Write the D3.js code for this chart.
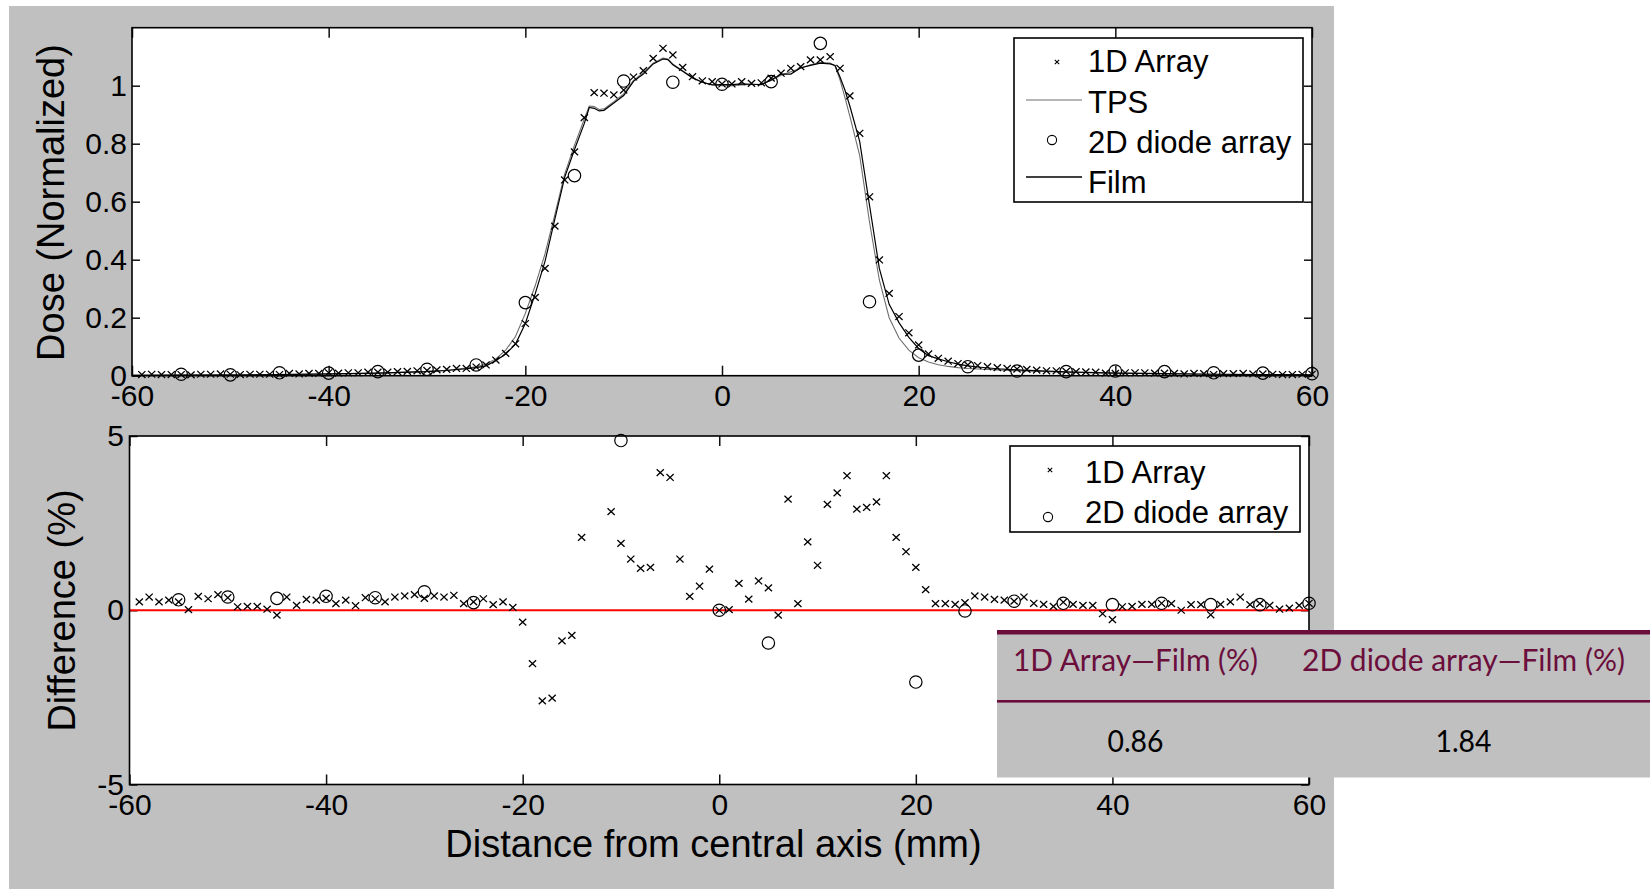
<!DOCTYPE html>
<html>
<head>
<meta charset="utf-8">
<script src="https://cdn.jsdelivr.net/npm/d3@7"></script>
<style>
  body { margin: 0; background: #fff; }
  svg { display: block; }
</style>
</head>
<body>
<svg id="chart"></svg>
<script>
// positions (mm) of the 1D array detectors
var POS_1D = [-59,-58,-57,-56,-55,-54,-53,-52,-51,-50,-49,-48,-47,-46,-45,-44,-43,-42,-41,-40,
  -39,-38,-37,-36,-35,-34,-33,-32,-31,-30,-29,-28,-27,-26,-25,-24,-23,-22,-21,-20,
  -19,-18,-17,-16,-15,-14,-13,-12,-11,-10,-9,-8,-7,-6,-5,-4,-3,-2,-1,0,
  1,2,3,4,5,6,7,8,9,10,11,12,13,14,15,16,17,18,19,20,
  21,22,23,24,25,26,27,28,29,30,31,32,33,34,35,36,37,38,39,40,
  41,42,43,44,45,46,47,48,49,50,51,52,53,54,55,56,57,58,59,60];

var DOSE_1D = [0.004,0.005,0.004,0.004,0.004,0.003,0.005,0.005,0.006,0.005,0.004,0.005,0.005,0.005,0.004,0.008,0.006,0.008,0.008,0.010,
  0.009,0.010,0.010,0.012,0.012,0.012,0.014,0.015,0.017,0.018,0.020,0.022,0.025,0.025,0.030,0.037,0.054,0.077,0.110,0.180,
  0.270,0.370,0.516,0.675,0.772,0.890,0.976,0.974,0.968,0.985,1.030,1.052,1.094,1.129,1.106,1.063,1.031,1.017,1.014,1.006,
  1.006,1.014,1.008,1.010,1.026,1.043,1.060,1.066,1.089,1.089,1.100,1.060,0.965,0.836,0.617,0.399,0.284,0.204,0.148,0.106,
  0.075,0.060,0.050,0.042,0.037,0.035,0.031,0.028,0.025,0.023,0.022,0.019,0.017,0.017,0.015,0.014,0.013,0.012,0.009,0.008,
  0.010,0.010,0.010,0.009,0.009,0.008,0.006,0.008,0.007,0.004,0.007,0.007,0.008,0.006,0.006,0.005,0.004,0.004,0.005,0.005];

// 1D array - film (%), null = off the plotted range
var DIFF_1D = [0.24,0.38,0.24,0.29,0.24,0.02,0.40,0.33,0.45,0.36,0.10,0.11,0.11,0.03,-0.14,0.38,0.14,0.31,0.29,0.35,
  0.19,0.29,0.13,0.36,0.33,0.24,0.38,0.41,0.45,0.34,0.41,0.38,0.43,0.19,0.24,0.33,0.16,0.24,0.08,-0.34,
  -1.53,-2.60,-2.52,-0.88,-0.72,2.09,null,null,2.83,1.92,1.47,1.20,1.23,3.95,3.81,1.47,0.40,0.69,1.18,0.00,
  0.02,0.77,0.32,0.84,0.64,-0.14,3.19,0.19,1.96,1.29,3.04,3.37,3.86,2.90,2.95,3.11,3.86,2.09,1.68,1.23,
  0.59,0.19,0.19,0.17,0.22,0.41,0.38,0.31,0.29,0.26,0.38,0.20,0.17,0.11,0.23,0.17,0.14,0.14,-0.10,-0.27,
  0.10,0.11,0.17,0.17,0.20,0.19,0.00,0.16,0.16,-0.13,0.17,0.24,0.38,0.16,0.19,0.14,0.03,0.06,0.14,0.20];

var POS_DIODE = [-55,-50,-45,-40,-35,-30,-25,-20,-15,-10,-5,0,5,10,15,20,25,30,35,40,45,50,55,60];
var DOSE_DIODE = [0.005,0.003,0.010,0.009,0.014,0.022,0.037,0.252,0.690,1.016,1.012,1.005,1.014,1.146,0.255,0.071,0.031,0.016,0.014,0.016,0.014,0.010,0.009,0.007];
var DIFF_DIODE = [0.30,0.38,0.34,0.40,0.36,0.53,0.22,null,null,4.87,null,0.00,-0.94,null,null,-2.06,-0.02,0.26,0.20,0.16,0.20,0.16,0.16,0.20];

// profile curves
var POS_LINE = [-60,-55,-50,-45,-40,-35,-30,-28,-26,-25,-24,-23,-22,-21,-20,-19,-18,-17,-16,-15,-14,-13.5,-13,-12.5,-12,-11,-10,-9,-8,-7,-6,-5.5,-5,-4,-3,-2,-1,0,
  1,2,3,4,5,6,7,8,9,10,11,11.5,12,12.5,13,14,15,16,17,18,19,20,21,22,23,24,25,26,28,30,35,40,45,50,55,60];
var FILM = [0.001,0.002,0.002,0.004,0.006,0.009,0.014,0.018,0.024,0.028,0.034,0.052,0.075,0.109,0.180,0.282,0.394,0.540,0.684,0.780,0.870,0.925,0.922,0.913,0.915,0.940,0.966,1.015,1.040,1.075,1.092,1.090,1.072,1.050,1.027,1.012,1.003,1.004,
  1.004,1.006,1.005,1.004,1.020,1.040,1.040,1.062,1.070,1.078,1.075,1.070,1.030,0.985,0.930,0.808,0.588,0.370,0.246,0.183,0.132,0.094,0.069,0.058,0.048,0.040,0.034,0.030,0.024,0.020,0.013,0.009,0.007,0.005,0.004,0.003];
var TPS = [0.001,0.002,0.003,0.004,0.006,0.009,0.015,0.019,0.026,0.031,0.040,0.058,0.088,0.135,0.215,0.310,0.420,0.555,0.695,0.795,0.885,0.930,0.928,0.918,0.920,0.945,0.972,1.018,1.045,1.078,1.095,1.092,1.075,1.052,1.028,1.012,1.003,1.000,
  1.000,1.003,1.004,1.005,1.018,1.036,1.048,1.060,1.072,1.080,1.078,1.068,1.020,0.960,0.895,0.760,0.530,0.330,0.200,0.130,0.088,0.062,0.047,0.038,0.032,0.028,0.025,0.023,0.020,0.017,0.012,0.009,0.007,0.005,0.004,0.003];

var X_TICKS = [-60,-40,-20,0,20,40,60];
var Y_TICKS_DOSE = [0,0.2,0.4,0.6,0.8,1];
var Y_TICKS_DIFF = [-5,0,5];

var TABLE_HEADERS = ["1D Array\u2014Film (%)", "2D diode array\u2014Film (%)"];
var TABLE_VALUES = [0.86, 1.84];

make_chart = function () {

    var width = 1650, height = 889;
    var font = "'Liberation Sans', Arial, Helvetica, sans-serif";
    var maroon = "#6b0e3c";

    var svg = d3.select("#chart")
        .attr("width", width)
        .attr("height", height)
        .attr("viewBox", [0, 0, width, height]);

    svg.append("rect")
        .attr("x", 9).attr("y", 6)
        .attr("width", 1325).attr("height", 883)
        .attr("fill", "#c0c0c0");

    var xMark = "M-3.6,-3.4L3.6,3.4M-3.6,3.4L3.6,-3.4";
    var xMarkSmall = "M-2.2,-2.2L2.2,2.2M-2.2,2.2L2.2,-2.2";
    var plain = d => String(d);   // keep hyphen-minus like the original

    // ---------- panel setup ----------
    function panel(box, yDomain, yTicks, labelPad, id) {
        var x = d3.scaleLinear().domain([-60, 60]).range([box.left, box.right]);
        var y = d3.scaleLinear().domain(yDomain).range([box.bottom, box.top]);

        svg.append("rect")
            .attr("x", box.left).attr("y", box.top)
            .attr("width", box.right - box.left).attr("height", box.bottom - box.top)
            .attr("fill", "#fff");

        svg.append("clipPath").attr("id", id)
            .append("rect")
            .attr("x", box.left - 8).attr("y", box.top - 8)
            .attr("width", box.right - box.left + 16).attr("height", box.bottom - box.top + 16);

        var style = g => g
            .call(g => g.select(".domain").remove())
            .call(g => g.selectAll(".tick line").attr("stroke", "#111").attr("stroke-width", 1.5))
            .call(g => g.selectAll("text")
                .attr("font-family", font).attr("font-size", 30).attr("fill", "#000"));

        svg.append("g")
            .attr("transform", `translate(0,${box.bottom})`)
            .call(d3.axisBottom(x).tickValues(X_TICKS).tickSize(-10).tickPadding(9.5).tickFormat(plain))
            .call(style);
        svg.append("g")
            .attr("transform", `translate(0,${box.top})`)
            .call(d3.axisTop(x).tickValues(X_TICKS).tickSize(-10).tickFormat(""))
            .call(style);
        svg.append("g")
            .attr("transform", `translate(${box.left},0)`)
            .call(d3.axisLeft(y).tickValues(yTicks).tickSize(-8).tickPadding(labelPad).tickFormat(plain))
            .call(style);
        svg.append("g")
            .attr("transform", `translate(${box.right},0)`)
            .call(d3.axisRight(y).tickValues(yTicks).tickSize(-8).tickFormat(""))
            .call(style);

        return { x: x, y: y, box: box };
    }

    function frame(p) {
        var b = p.box;
        svg.append("rect")
            .attr("x", b.left).attr("y", b.top)
            .attr("width", b.right - b.left).attr("height", b.bottom - b.top)
            .attr("fill", "none").attr("stroke", "#000").attr("stroke-width", 1.6);
    }

    // ---------- top: dose profiles ----------
    var top = panel({ left: 132, right: 1312, top: 27.7, bottom: 375.7 }, [0, 1.2], Y_TICKS_DOSE, 5, "clipTop");
    var gTop = svg.append("g").attr("clip-path", "url(#clipTop)");

    var lineTop = d3.line()
        .x(d => top.x(d[0]))
        .y(d => top.y(d[1]));

    gTop.append("path")
        .attr("d", lineTop(d3.zip(POS_LINE, TPS)))
        .attr("fill", "none").attr("stroke", "#6e6e6e").attr("stroke-width", 1.1);
    gTop.append("path")
        .attr("d", lineTop(d3.zip(POS_LINE, FILM)))
        .attr("fill", "none").attr("stroke", "#000").attr("stroke-width", 1.2);

    gTop.append("g").selectAll("path")
        .data(d3.zip(POS_1D, DOSE_1D))
        .join("path")
        .attr("transform", d => `translate(${top.x(d[0])},${top.y(d[1])})`)
        .attr("d", xMark)
        .attr("stroke", "#000").attr("stroke-width", 1.3).attr("fill", "none");

    gTop.append("g").selectAll("circle")
        .data(d3.zip(POS_DIODE, DOSE_DIODE))
        .join("circle")
        .attr("cx", d => top.x(d[0]))
        .attr("cy", d => top.y(d[1]))
        .attr("r", 6.2)
        .attr("fill", "none").attr("stroke", "#000").attr("stroke-width", 1.2);

    frame(top);

    // ---------- bottom: differences ----------
    var bot = panel({ left: 129.5, right: 1309, top: 436, bottom: 784.5 }, [-5, 5], Y_TICKS_DIFF, 5.5, "clipBot");
    var gBot = svg.append("g").attr("clip-path", "url(#clipBot)");

    gBot.append("line")
        .attr("x1", bot.x(-60)).attr("x2", bot.x(60))
        .attr("y1", bot.y(0)).attr("y2", bot.y(0))
        .attr("stroke", "#ff0000").attr("stroke-width", 2.2);

    gBot.append("g").selectAll("path")
        .data(d3.zip(POS_1D, DIFF_1D).filter(d => d[1] !== null))
        .join("path")
        .attr("transform", d => `translate(${bot.x(d[0])},${bot.y(d[1])})`)
        .attr("d", xMark)
        .attr("stroke", "#000").attr("stroke-width", 1.3).attr("fill", "none");

    gBot.append("g").selectAll("circle")
        .data(d3.zip(POS_DIODE, DIFF_DIODE).filter(d => d[1] !== null))
        .join("circle")
        .attr("cx", d => bot.x(d[0]))
        .attr("cy", d => bot.y(d[1]))
        .attr("r", 6.2)
        .attr("fill", "none").attr("stroke", "#000").attr("stroke-width", 1.2);

    frame(bot);

    // ---------- axis titles ----------
    svg.append("text")
        .attr("transform", "translate(64,202.5) rotate(-90)")
        .attr("text-anchor", "middle")
        .attr("font-family", font).attr("font-size", 38)
        .text("Dose (Normalized)");
    svg.append("text")
        .attr("transform", "translate(74.5,610.5) rotate(-90)")
        .attr("text-anchor", "middle")
        .attr("font-family", font).attr("font-size", 38)
        .text("Difference (%)");
    svg.append("text")
        .attr("x", 713.5).attr("y", 857)
        .attr("text-anchor", "middle")
        .attr("font-family", font).attr("font-size", 38)
        .text("Distance from central axis (mm)");

    // ---------- legends ----------
    function legend(box, entries) {
        var g = svg.append("g");
        g.append("rect")
            .attr("x", box.x).attr("y", box.y)
            .attr("width", box.w).attr("height", box.h)
            .attr("fill", "#fff").attr("stroke", "#000").attr("stroke-width", 1.6);
        entries.forEach(function (e) {
            if (e.kind === "x") {
                g.append("path").attr("d", xMarkSmall)
                    .attr("transform", `translate(${e.mx},${e.my})`)
                    .attr("stroke", "#000").attr("stroke-width", 1.1);
            } else if (e.kind === "o") {
                g.append("circle").attr("cx", e.mx).attr("cy", e.my).attr("r", 4.6)
                    .attr("fill", "none").attr("stroke", "#000").attr("stroke-width", 1.1);
            } else {
                g.append("line")
                    .attr("x1", box.x + 12).attr("x2", box.x + 68)
                    .attr("y1", e.my).attr("y2", e.my)
                    .attr("stroke", e.color).attr("stroke-width", e.sw);
            }
            g.append("text")
                .attr("x", box.tx).attr("y", e.base)
                .attr("font-family", font).attr("font-size", 31)
                .text(e.label);
        });
    }

    legend({ x: 1014, y: 38, w: 289, h: 164, tx: 1088 }, [
        { label: "1D Array", kind: "x", mx: 1057, my: 62, base: 72 },
        { label: "TPS", kind: "l", my: 100, base: 113, color: "#6e6e6e", sw: 1.1 },
        { label: "2D diode array", kind: "o", mx: 1052, my: 140, base: 153 },
        { label: "Film", kind: "l", my: 177, base: 193, color: "#000", sw: 1.4 }
    ]);

    legend({ x: 1010, y: 446, w: 290, h: 86, tx: 1085 }, [
        { label: "1D Array", kind: "x", mx: 1050, my: 470, base: 483 },
        { label: "2D diode array", kind: "o", mx: 1048, my: 517, base: 523 }
    ]);

    // ---------- summary table ----------
    var tbl = svg.append("g");
    tbl.append("rect")
        .attr("x", 997).attr("y", 630)
        .attr("width", 653).attr("height", 147.5)
        .attr("fill", "#c0c0c0");
    tbl.append("rect")
        .attr("x", 997).attr("y", 630)
        .attr("width", 653).attr("height", 4.5)
        .attr("fill", maroon);
    tbl.append("rect")
        .attr("x", 997).attr("y", 700)
        .attr("width", 653).attr("height", 2.6)
        .attr("fill", maroon);

    var colX = [1135.5, 1463.5];
    var headW = [245, 323];
    tbl.selectAll("text.head")
        .data(TABLE_HEADERS)
        .join("text")
        .attr("class", "head")
        .attr("x", (d, i) => colX[i]).attr("y", 671)
        .attr("text-anchor", "middle")
        .attr("font-family", "Lato, 'Open Sans', sans-serif").attr("font-size", 31)
        .attr("textLength", (d, i) => headW[i])
        .attr("lengthAdjust", "spacingAndGlyphs")
        .attr("fill", maroon)
        .text(d => d);
    tbl.selectAll("text.val")
        .data(TABLE_VALUES)
        .join("text")
        .attr("class", "val")
        .attr("x", (d, i) => colX[i]).attr("y", 752)
        .attr("text-anchor", "middle")
        .attr("font-family", "Lato, 'Open Sans', sans-serif").attr("font-size", 31)
        .attr("textLength", 56)
        .attr("lengthAdjust", "spacingAndGlyphs")
        .attr("fill", "#000")
        .text(d => d3.format(".2f")(d));
}

make_chart();
</script>
</body>
</html>
